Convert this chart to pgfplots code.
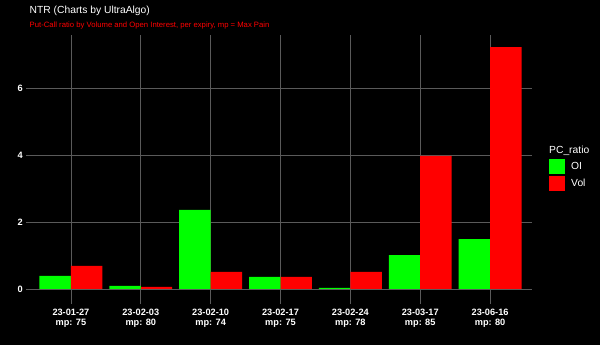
\documentclass[border=0pt]{standalone}
\usepackage{pgfplots}
\pgfplotsset{compat=1.18}
\usepackage{fontspec}
\setmainfont{Liberation Sans}
\definecolor{gridgray}{RGB}{90,90,90}
\definecolor{oigreen}{RGB}{0,255,0}
\definecolor{volred}{RGB}{255,0,0}
\begin{document}
\begin{tikzpicture}[x=1pt,y=1pt]
\fill[black] (0,0) rectangle (600,345);
\useasboundingbox (0,0) rectangle (600,345);
\node[anchor=base west,inner sep=0pt,text=white,font=\fontsize{10.3}{12}\selectfont] at (29.5,331) {NTR (Charts by UltraAlgo)};
\node[anchor=base west,inner sep=0pt,text=volred,font=\fontsize{7.7}{9}\selectfont] at (29.5,317.5) {Put-Call ratio by Volume and Open Interest, per expiry, mp = Max Pain};
\node[anchor=base west,inner sep=0pt,text=white,font=\fontsize{10.3}{12}\selectfont] at (549,191) {PC\_ratio};
\begin{axis}[
  at={(29pt,44pt)}, anchor=south west,
  scale only axis, width=503pt, height=266pt,
  xmin=-0.6, xmax=6.6, ymin=-0.36, ymax=7.58,
  axis line style={draw=none},
  xtick={0,1,2,3,4,5,6},
  xticklabels={{23-01-27\\mp: 75},{23-02-03\\mp: 80},{23-02-10\\mp: 74},{23-02-17\\mp: 75},{23-02-24\\mp: 78},{23-03-17\\mp: 85},{23-06-16\\mp: 80}},
  ytick={0,2,4,6},
  /pgf/number format/assume math mode=true,
  xticklabel style={align=center,text=white,yshift=-2pt,font=\fontsize{9.2}{9.4}\selectfont\bfseries},
  yticklabel style={text=white,font=\fontsize{9.2}{11}\selectfont\bfseries},
  tick align=outside, major tick length=2.75pt,
  tick style={draw=gridgray,line width=0.8pt},
  xtick pos=bottom, ytick pos=left,
  grid=major,
  major grid style={draw=gridgray,line width=0.8pt},
  ybar=0pt, bar width=0.45,
  legend style={at={(1.0338,0.5338)},anchor=north west,draw=none,fill=none,
    inner sep=0pt,row sep=2pt,column sep=6pt,
    nodes={inner sep=0pt,text=white,font=\fontsize{10.3}{12}\selectfont}},
  legend cell align=left,
  legend image code/.code={\fill[#1,draw=none] (0pt,-7.5pt) rectangle (16pt,7.5pt);},
]
\addplot[fill=oigreen,draw=none,bar shift=-0.225] coordinates {(0,0.39) (1,0.09) (2,2.36) (3,0.36) (4,0.03) (5,1.01) (6,1.49)};
\addlegendentry{OI}
\addplot[fill=volred,draw=none,bar shift=0.225] coordinates {(0,0.69) (1,0.06) (2,0.51) (3,0.36) (4,0.51) (5,3.97) (6,7.22)};
\addlegendentry{Vol}
\end{axis}
\end{tikzpicture}
\end{document}
